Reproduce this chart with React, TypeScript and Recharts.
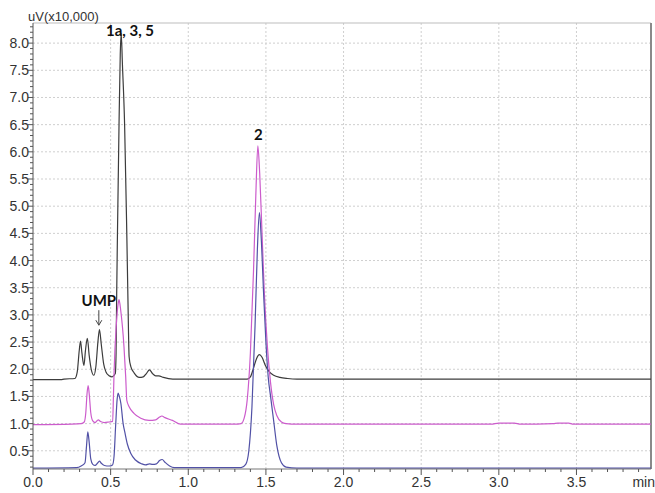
import { LineChart, Line, XAxis, YAxis, CartesianGrid, ReferenceLine, ReferenceDot } from "recharts"

// retention time (min) / signal (uV x10,000)
const blackTimes = [
  0.0, 0.18, 0.2, 0.27, 0.285, 0.298, 0.306, 0.315, 0.328, 0.338, 0.35, 0.362, 0.375, 0.392, 0.405, 0.418,
  0.428, 0.44, 0.455, 0.47, 0.49, 0.51, 0.53, 0.535, 0.539, 0.544, 0.554, 0.562, 0.568, 0.576, 0.59, 0.604,
  0.612, 0.619, 0.63, 0.652, 0.684, 0.71, 0.73, 0.75, 0.77, 0.79, 0.81, 0.84, 0.9, 1.38, 1.4, 1.42, 1.44,
  1.458, 1.475, 1.495, 1.52, 1.55, 1.59, 1.64, 1.7, 3.98,
]
const blackValues = [
  1.81, 1.81, 1.82, 1.83, 1.95, 2.35, 2.52, 2.3, 2.07, 2.35, 2.57, 2.25, 2.0, 1.89, 2.05, 2.5,
  2.73, 2.45, 2.1, 1.95, 1.88, 1.86, 1.92, 2.3, 3.4, 4.5, 6.5, 7.8, 8.18, 7.6, 6.5, 4.5,
  3.2, 2.23, 2.05, 1.93, 1.85, 1.86, 1.92, 1.99, 1.92, 1.88, 1.88, 1.85, 1.82, 1.82, 1.86, 2.02, 2.2,
  2.27, 2.22, 2.08, 1.96, 1.89, 1.85, 1.83, 1.82, 1.82,
]

const pinkTimes = [
  0.0, 0.25, 0.31, 0.33, 0.34, 0.348, 0.355, 0.362, 0.372, 0.385, 0.4, 0.42, 0.435, 0.46, 0.49, 0.513,
  0.518, 0.522, 0.537, 0.548, 0.554, 0.565, 0.586, 0.597, 0.604, 0.619, 0.65, 0.694, 0.747, 0.79, 0.815,
  0.83, 0.85, 0.898, 0.95, 1.3, 1.34, 1.36, 1.38, 1.4, 1.42, 1.435, 1.448, 1.46, 1.475, 1.49, 1.51, 1.53,
  1.55, 1.57, 1.6, 1.63, 1.7, 2.95, 3.0, 3.1, 3.14, 3.35, 3.38, 3.45, 3.48, 3.98,
]
const pinkValues = [
  0.98, 0.99, 1.0, 1.03, 1.2, 1.55, 1.7, 1.55, 1.2, 1.05, 1.02, 1.07, 1.04, 1.02, 1.03, 1.04,
  1.5, 1.93, 2.84, 3.2, 3.28, 3.08, 2.41, 1.86, 1.43, 1.31, 1.19, 1.1, 1.06, 1.07, 1.12,
  1.14, 1.11, 1.06, 0.99, 0.99, 1.0, 1.1, 1.45, 2.3, 3.8, 5.2, 6.11, 5.6, 4.5, 3.4, 2.4, 1.75,
  1.35, 1.15, 1.03, 1.0, 0.99, 0.99, 1.01, 1.01, 0.99, 1.0, 1.01, 1.01, 0.99, 0.99,
]

const blueTimes = [
  0.0, 0.28, 0.31, 0.335, 0.345, 0.353, 0.362, 0.372, 0.385, 0.4, 0.415, 0.428, 0.44, 0.46, 0.49, 0.512,
  0.522, 0.532, 0.542, 0.548, 0.556, 0.566, 0.58, 0.593, 0.608, 0.63, 0.66, 0.7, 0.725, 0.75, 0.77,
  0.795, 0.815, 0.832, 0.85, 0.88, 0.91, 1.34, 1.37, 1.39, 1.41, 1.43, 1.445, 1.458, 1.47, 1.485, 1.5,
  1.515, 1.53, 1.55, 1.57, 1.6, 1.63, 1.7, 3.98,
]
const blueValues = [
  0.18, 0.19, 0.22, 0.28, 0.6, 0.85, 0.65, 0.35, 0.25, 0.23, 0.27, 0.31, 0.27, 0.23, 0.22, 0.24,
  0.4, 0.95, 1.45, 1.56, 1.5, 1.37, 1.01, 0.82, 0.62, 0.45, 0.33, 0.26, 0.24, 0.26, 0.25,
  0.26, 0.32, 0.34, 0.29, 0.22, 0.19, 0.19, 0.25, 0.5, 1.3, 2.8, 4.2, 4.88, 4.4, 3.4, 2.5,
  1.85, 1.5, 1.05, 0.6, 0.28, 0.2, 0.18, 0.18,
]

const xTicks = [0.0, 0.5, 1.0, 1.5, 2.0, 2.5, 3.0, 3.5]
const yTicks = [0.5, 1.0, 1.5, 2.0, 2.5, 3.0, 3.5, 4.0, 4.5, 5.0, 5.5, 6.0, 6.5, 7.0, 7.5, 8.0]
const xDomain = [0, 3.98]
const yDomain = [0.165, 8.37]

// minor tick marks every 0.1
const steps = (from: number, to: number) => {
  const out: number[] = []
  for (let i = Math.round(from * 10); i <= Math.round(to * 10); i++) out.push(i / 10)
  return out
}
const xMinor = steps(0, 3.9)
const yMinor = steps(0.2, 8.3)

const toPoints = (ts: number[], vs: number[]) => ts.map((t, i) => ({ t, v: vs[i] }))
const blackData = toPoints(blackTimes, blackValues)
const pinkData = toPoints(pinkTimes, pinkValues)
const blueData = toPoints(blueTimes, blueValues)

const isMajor = (list: number[], v: number) => list.some((m) => Math.abs(m - v) < 1e-6)

function YTick({ x, y, payload }: any) {
  const major = isMajor(yTicks, payload.value)
  return (
    <g>
      <line x1={x - (major ? 5 : 3)} x2={x} y1={y} y2={y} stroke="#555" />
      {major && (
        <text x={x - 4} y={y} dy={5} textAnchor="end" fontSize={14} fill="#333">
          {payload.value.toFixed(1)}
        </text>
      )}
    </g>
  )
}

function XTick({ x, y, payload }: any) {
  const major = isMajor(xTicks, payload.value)
  return (
    <g>
      <line x1={x} x2={x} y1={y} y2={y + (major ? 6 : 3)} stroke="#555" />
      {major && (
        <text x={x} y={y + 18} textAnchor="middle" fontSize={14} fill="#333">
          {payload.value.toFixed(1)}
        </text>
      )}
    </g>
  )
}

const noteStyle = { fontFamily: "Lato", fontWeight: 700, fontSize: 15, fill: "#111" }

export default function App() {
  return (
    <div style={{ position: "absolute", left: 0, top: 0, width: 655, height: 493, background: "#fff", fontFamily: "'Liberation Sans', Arial, sans-serif" }}>
      <LineChart width={655} height={493} margin={{ top: 23, right: 4, bottom: 0, left: 0 }}>
        <CartesianGrid stroke="#cfcfcf" strokeDasharray="2 2" horizontalValues={yTicks} verticalValues={xTicks.slice(1)} />
        <XAxis
          type="number"
          dataKey="t"
          domain={xDomain}
          allowDataOverflow
          ticks={xMinor}
          interval={0}
          height={24}
          tickSize={0}
          tickMargin={0}
          tick={<XTick />}
          stroke="#777"
          label={{
            content: ({ viewBox }: any) => (
              <text x={viewBox.x + viewBox.width + 4} y={viewBox.y + 18} textAnchor="end" fontSize={14} fill="#333">
                min
              </text>
            ),
          }}
        />
        <YAxis
          type="number"
          domain={yDomain}
          allowDataOverflow
          ticks={yMinor}
          interval={0}
          width={33}
          tickSize={0}
          tickMargin={0}
          tick={<YTick />}
          stroke="#555"
          label={{
            content: ({ viewBox }: any) => (
              <text x={viewBox.x + 28} y={viewBox.y - 2} fontSize={13} fill="#333">
                uV(x10,000)
              </text>
            ),
          }}
        />
        <ReferenceLine y={yDomain[1]} stroke="#bdbdbd" ifOverflow="visible" />
        <ReferenceLine x={xDomain[1]} stroke="#8a8a8a" strokeWidth={2} ifOverflow="visible" />
        <Line data={blackData} dataKey="v" type="monotone" stroke="#3c3c3c" strokeWidth={1.2} dot={false} isAnimationActive={false} />
        <Line data={pinkData} dataKey="v" type="monotone" stroke="#cc5ccc" strokeWidth={1.2} dot={false} isAnimationActive={false} />
        <Line data={blueData} dataKey="v" type="monotone" stroke="#5151a6" strokeWidth={1.2} dot={false} isAnimationActive={false} />
        <ReferenceDot
          x={0.625}
          y={8.14}
          r={1}
          fill="none"
          stroke="none"
          label={{
            content: ({ viewBox }: any) => (
              <text x={viewBox.x + 1} y={viewBox.y + 1} textAnchor="middle" {...noteStyle}>
                1a, 3, 5
              </text>
            ),
          }}
        />
        <ReferenceDot
          x={1.452}
          y={6.21}
          r={1}
          fill="none"
          stroke="none"
          label={{
            content: ({ viewBox }: any) => (
              <text x={viewBox.x + 1} y={viewBox.y + 1} textAnchor="middle" {...noteStyle}>
                2
              </text>
            ),
          }}
        />
        <ReferenceDot
          x={0.424}
          y={3.16}
          r={1}
          fill="none"
          stroke="none"
          label={{
            content: ({ viewBox }: any) => {
              const cx = viewBox.x + 1
              const cy = viewBox.y + 1
              return (
                <g>
                  <text x={cx} y={cy} textAnchor="middle" {...noteStyle}>
                    UMP
                  </text>
                  <line x1={cx} x2={cx} y1={cy + 4} y2={cy + 19} stroke="#444" />
                  <path d={`M${cx - 3},${cy + 14} L${cx},${cy + 19} L${cx + 3},${cy + 14}`} fill="none" stroke="#444" />
                </g>
              )
            },
          }}
        />
      </LineChart>
    </div>
  )
}
